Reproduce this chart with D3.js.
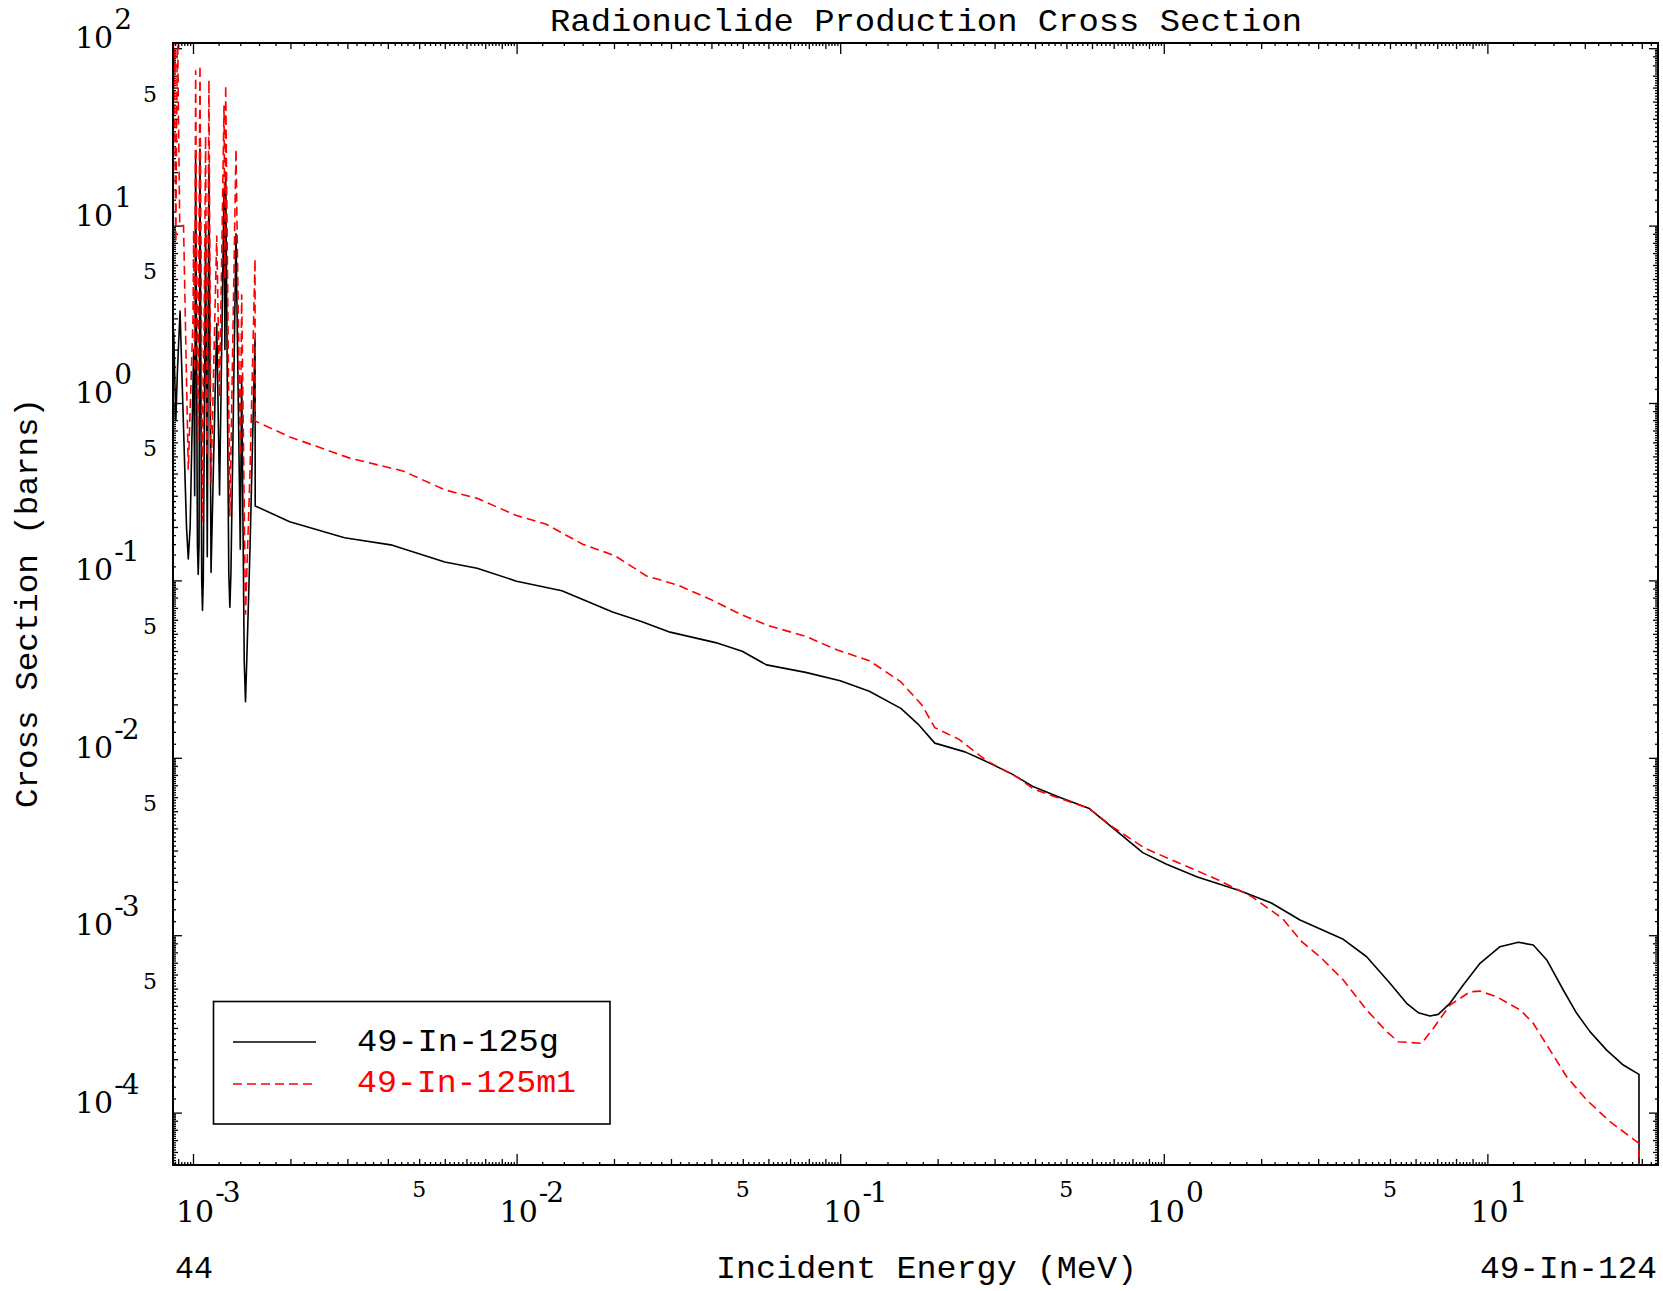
<!DOCTYPE html>
<html>
<head>
<meta charset="utf-8">
<script src="https://cdn.jsdelivr.net/npm/d3@7"></script>
<style>
  html, body { margin: 0; padding: 0; background: #fff; }
  svg { display: block; }
</style>
</head>
<body>
<svg id="chart" width="1663" height="1291"></svg>
<script>
// ---------------- DATA ----------------
const titleText = "Radionuclide Production Cross Section";
const xAxisTitle = "Incident Energy (MeV)";
const yAxisTitle = "Cross Section (barns)";
const leftFootText = "44";
const rightFootText = "49-In-124";
const seriesNames = ["49-In-125g", "49-In-125m1"];
const seriesColors = ["#000000", "#ff0000"];

// 49-In-125g (black solid)
const energyG = [
  8.62e-4, 8.72e-4, 8.80e-4, 8.85e-4, 8.95e-4, 9.12e-4, 9.30e-4, 9.55e-4, 9.67e-4, 9.80e-4,
  1.005e-3, 1.012e-3, 1.019e-3, 1.032e-3, 1.038e-3, 1.044e-3, 1.051e-3, 1.064e-3, 1.070e-3, 1.076e-3,
  1.094e-3, 1.107e-3, 1.120e-3, 1.137e-3, 1.184e-3, 1.208e-3, 1.247e-3, 1.255e-3, 1.262e-3, 1.290e-3,
  1.300e-3, 1.310e-3, 1.358e-3, 1.400e-3, 1.414e-3, 1.440e-3, 1.453e-3, 1.466e-3, 1.500e-3, 1.555e-3,
  1.557e-3, 1.99e-3, 2.94e-3, 4.13e-3, 6.0e-3, 7.55e-3, 1.0e-2, 1.38e-2, 1.98e-2, 2.43e-2,
  2.98e-2, 4.12e-2, 4.98e-2, 5.92e-2, 7.82e-2, 0.100, 0.123, 0.154, 0.174, 0.196,
  0.243, 0.282, 0.340, 0.396, 0.478, 0.586, 0.672, 0.861, 1.02, 1.27,
  1.72, 2.15, 2.636, 3.587, 4.236, 5.0, 5.63, 6.115, 6.647, 7.05,
  7.66, 8.42, 9.49, 10.94, 12.46, 13.86, 15.26, 17.16, 18.88, 20.75,
  23.37, 26.3, 29.41, 29.41
];
const sigmaG = [
  2.0, 2.5, 1.2, 0.8, 1.5, 3.3, 1.0, 0.2, 0.132, 0.2,
  2.0, 0.3, 25, 0.16, 0.108, 0.16, 27, 0.1, 0.0678, 0.1,
  10, 0.136, 22, 0.111, 2.8, 0.303, 16, 2.0, 20, 0.11,
  0.0705, 0.11, 9.0, 0.15, 1.4, 0.035, 0.0207, 0.035, 0.15, 2.3,
  0.263, 0.214, 0.174, 0.158, 0.127, 0.117, 0.099, 0.0875, 0.0664, 0.0587,
  0.0511, 0.0446, 0.0399, 0.0334, 0.0303, 0.0272, 0.0237, 0.0190, 0.0155, 0.0121,
  0.0108, 0.00955, 0.00809, 0.00686, 0.00598, 0.00520, 0.00424, 0.00292, 0.00251, 0.00213,
  0.00178, 0.00152, 0.001218, 0.000948, 0.000756, 0.000536, 0.000413, 0.000366, 0.000350, 0.000358,
  0.000413, 0.000524, 0.000694, 0.000861, 0.000912, 0.000881, 0.000725, 0.000491, 0.000363, 0.000286,
  0.000225, 0.0001854, 0.0001643, 1e-6
];

// 49-In-125m1 (red dashed)
const energyM = [
  8.62e-4, 8.72e-4, 8.85e-4, 8.95e-4, 9.10e-4, 9.35e-4, 9.67e-4, 1.000e-3, 1.005e-3, 1.012e-3,
  1.019e-3, 1.035e-3, 1.051e-3, 1.070e-3, 1.094e-3, 1.105e-3, 1.120e-3, 1.137e-3, 1.184e-3, 1.208e-3,
  1.247e-3, 1.255e-3, 1.262e-3, 1.300e-3, 1.358e-3, 1.400e-3, 1.414e-3, 1.453e-3, 1.500e-3, 1.555e-3,
  1.557e-3, 1.99e-3, 3.05e-3, 4.45e-3, 6.0e-3, 7.55e-3, 1.0e-2, 1.23e-2, 1.6e-2, 2.01e-2,
  2.52e-2, 3.16e-2, 3.96e-2, 4.98e-2, 6.0e-2, 7.82e-2, 9.8e-2, 0.123, 0.154, 0.179,
  0.196, 0.233, 0.282, 0.353, 0.396, 0.478, 0.586, 0.697, 0.874, 1.10,
  1.48, 1.86, 2.33, 2.668, 3.04, 3.587, 4.236, 4.885, 5.305, 6.266,
  6.81, 7.66, 8.84, 9.49, 10.68, 12.62, 13.86, 15.61, 17.58, 20.27,
  23.93, 29.41, 29.41
];
const sigmaM = [
  2.5, 200, 8.0, 150, 10, 10, 0.42, 3.0, 9.4, 1.5,
  75, 0.6, 80, 0.215, 32, 0.5, 66, 0.353, 8.8, 1.08,
  47.5, 5.0, 62, 0.229, 27, 0.5, 4.1, 0.064, 0.4, 6.5,
  0.791, 0.644, 0.489, 0.414, 0.324, 0.290, 0.232, 0.208, 0.160, 0.138,
  0.106, 0.0938, 0.0784, 0.0638, 0.0556, 0.0484, 0.0405, 0.0353, 0.0268, 0.0198,
  0.0148, 0.0127, 0.00968, 0.00776, 0.00667, 0.00590, 0.00520, 0.00406, 0.00309, 0.00258,
  0.00204, 0.00166, 0.00124, 0.000919, 0.000756, 0.000559, 0.000379, 0.000286, 0.000251, 0.000246,
  0.000299, 0.000404, 0.000480, 0.000484, 0.000450, 0.000379, 0.000319, 0.000225, 0.0001594, 0.0001178,
  0.0000889, 0.0000671, 1e-6
];

// Tick labels
const xMajorExponents = [-3, -2, -1, 0, 1];
const yMajorExponents = [2, 1, 0, -1, -2, -3, -4];
const xFiveLabelDecades = [-3, -2, -1, 0];
const yFiveLabelDecades = [1, 0, -1, -2, -3, -4];
const minorLabel = "5";

// ---------------- LAYOUT ----------------
const L = 173, R = 1658, T = 43, B = 1165;
const svg = d3.select("#chart");

const x = d3.scaleLog().domain([8.674e-4, 33.67]).range([L, R]);
const y = d3.scaleLog().domain([5.066e-5, 106.98]).range([B, T]);

// tick generation: 1.0,1.2,...,9.8 per decade
function makeTicks(scale) {
  const [lo, hi] = scale.domain();
  const major = [], medium = [], minor = [];
  for (let d = Math.floor(Math.log10(lo)); d <= Math.ceil(Math.log10(hi)); d++) {
    for (let k = 0; k < 45; k++) {
      const m = 1 + 0.2 * k;
      const v = m * Math.pow(10, d);
      if (v < lo * 0.9999 || v > hi * 1.0001) continue;
      if (k === 0) major.push(v);
      else if (k % 5 === 0) medium.push(v);
      else minor.push(v);
    }
  }
  return { major, medium, minor };
}
const xt = makeTicks(x), yt = makeTicks(y);
const xLens = { major: 11, medium: 6, minor: 3 };
const yLens = { major: 9, medium: 5, minor: 3 };

function drawAxis(axisFn, scale, vals, len, tx, ty) {
  const g = svg.append("g").attr("transform", `translate(${tx},${ty})`)
    .call(axisFn(scale).tickValues(vals).tickSize(-len).tickFormat(""));
  g.select(".domain").remove();
  g.selectAll(".tick line").attr("stroke", "#000").attr("stroke-width", 1.3);
}
for (const kind of ["major", "medium", "minor"]) {
  drawAxis(d3.axisBottom, x, xt[kind], xLens[kind], 0, B);
  drawAxis(d3.axisTop, x, xt[kind], xLens[kind], 0, T);
  drawAxis(d3.axisLeft, y, yt[kind], yLens[kind], L, 0);
  drawAxis(d3.axisRight, y, yt[kind], yLens[kind], R, 0);
}

// clip
svg.append("clipPath").attr("id", "plotclip")
  .append("rect").attr("x", L).attr("y", T).attr("width", R - L).attr("height", B - T);

const line = d3.line().x(d => x(d[0])).y(d => y(d[1]));
const dataG = energyG.map((e, i) => [e, sigmaG[i]]);
const dataM = energyM.map((e, i) => [e, sigmaM[i]]);

const plot = svg.append("g").attr("clip-path", "url(#plotclip)");
plot.append("path").datum(dataG).attr("d", line)
  .attr("fill", "none").attr("stroke", seriesColors[0]).attr("stroke-width", 1.6)
  .attr("stroke-linejoin", "round");
plot.append("path").datum(dataM).attr("d", line)
  .attr("fill", "none").attr("stroke", seriesColors[1]).attr("stroke-width", 1.6)
  .attr("stroke-dasharray", "9,5");

// frame
svg.append("rect").attr("x", L).attr("y", T).attr("width", R - L).attr("height", B - T)
  .attr("fill", "none").attr("stroke", "#000").attr("stroke-width", 2);

// ---------------- TEXT ----------------
const serif = "'DejaVu Serif', 'Liberation Serif', serif";
const mono = "'Liberation Mono', 'DejaVu Sans Mono', monospace";

function powerLabel(px, py, e, baseSize, expSize, rise) {
  const t = svg.append("text").attr("x", px).attr("y", py)
    .attr("font-family", serif).attr("font-size", baseSize).attr("fill", "#000");
  t.append("tspan").text("10");
  const label = e < 0 ? "-" + String(-e) : String(e);
  t.append("tspan").attr("dx", 1).attr("dy", -rise).attr("font-size", expSize)
    .attr("letter-spacing", e < 0 ? -2 : 0).text(label);
}

// x major labels
xMajorExponents.forEach(e => {
  powerLabel(x(Math.pow(10, e)) - 17, 1222, e, 30, 28, 20);
});
// y major labels
yMajorExponents.forEach(e => {
  powerLabel(75, y(Math.pow(10, e)), e, 30, 28, 19);
});
// "5" labels
xFiveLabelDecades.forEach(d => {
  svg.append("text").attr("x", x(5 * Math.pow(10, d))).attr("y", 1197)
    .attr("text-anchor", "middle").attr("font-family", serif).attr("font-size", 22)
    .text(minorLabel);
});
yFiveLabelDecades.forEach(d => {
  svg.append("text").attr("x", 150).attr("y", y(5 * Math.pow(10, d)))
    .attr("text-anchor", "middle").attr("font-family", serif).attr("font-size", 22)
    .text(minorLabel);
});

// title & axis titles
svg.append("text").attr("x", 550).attr("y", 31)
  .attr("font-family", mono).attr("font-size", 32)
  .attr("textLength", 752).attr("lengthAdjust", "spacingAndGlyphs").text(titleText);
svg.append("text").attr("x", 716).attr("y", 1278)
  .attr("font-family", mono).attr("font-size", 32)
  .attr("textLength", 421).attr("lengthAdjust", "spacingAndGlyphs").text(xAxisTitle);
svg.append("text").attr("transform", "translate(37,808) rotate(-90)")
  .attr("font-family", mono).attr("font-size", 32)
  .attr("textLength", 410).attr("lengthAdjust", "spacingAndGlyphs").text(yAxisTitle);
svg.append("text").attr("x", 175).attr("y", 1278)
  .attr("font-family", mono).attr("font-size", 32)
  .attr("textLength", 38).attr("lengthAdjust", "spacingAndGlyphs").text(leftFootText);
svg.append("text").attr("x", 1480).attr("y", 1278)
  .attr("font-family", mono).attr("font-size", 32)
  .attr("textLength", 177).attr("lengthAdjust", "spacingAndGlyphs").text(rightFootText);

// ---------------- LEGEND ----------------
const lg = svg.append("g");
lg.append("rect").attr("x", 213.5).attr("y", 1001.5).attr("width", 396.5).attr("height", 122.5)
  .attr("fill", "#fff").attr("stroke", "#000").attr("stroke-width", 1.6);
const legendRows = [
  { name: seriesNames[0], color: seriesColors[0], dash: null, ly: 1042, ty: 1051, tl: 202 },
  { name: seriesNames[1], color: seriesColors[1], dash: "9,5", ly: 1084, ty: 1092, tl: 219 }
];
legendRows.forEach(r => {
  lg.append("line").attr("x1", 233).attr("x2", 316).attr("y1", r.ly).attr("y2", r.ly)
    .attr("stroke", r.color).attr("stroke-width", 1.6)
    .attr("stroke-dasharray", r.dash);
  lg.append("text").attr("x", 357).attr("y", r.ty)
    .attr("font-family", mono).attr("font-size", 32).attr("fill", r.color)
    .attr("textLength", r.tl).attr("lengthAdjust", "spacingAndGlyphs").text(r.name);
});
</script>
</body>
</html>
